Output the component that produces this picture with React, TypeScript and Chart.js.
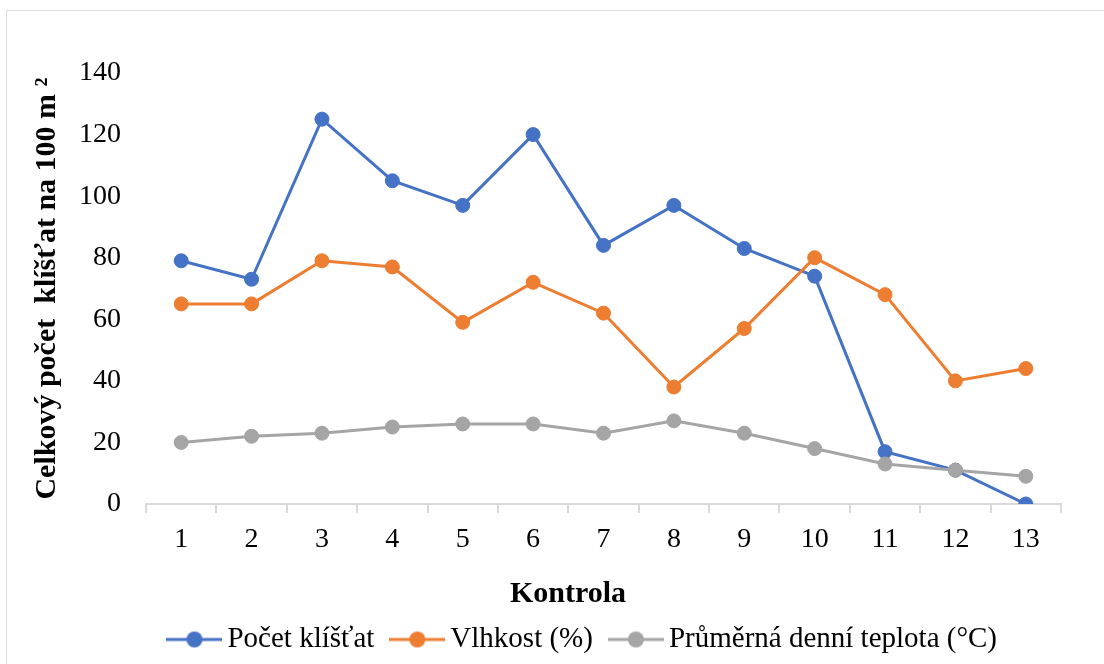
import React, { useEffect, useRef } from "react";
import { Chart, registerables } from "chart.js";

Chart.register(...registerables);

const categories = ["1", "2", "3", "4", "5", "6", "7", "8", "9", "10", "11", "12", "13"];
const pocetKlistat = [79, 73, 125, 105, 97, 120, 84, 97, 83, 74, 17, 11, 0];
const vlhkost = [65, 65, 79, 77, 59, 72, 62, 38, 57, 80, 68, 40, 44];
const teplota = [20, 22, 23, 25, 26, 26, 23, 27, 23, 18, 13, 11, 9];
const yTicks = [0, 20, 40, 60, 80, 100, 120, 140];
const seriesLabels = ["Počet klíšťat", "Vlhkost (%)", "Průměrná denní teplota (°C)"];
const seriesColors = ["#4472C4", "#ED7D31", "#A5A5A5"];
const xTitle = "Kontrola";
const yTitle = "Celkový počet  klíšťat na 100 m ²";

const FONT = "'Liberation Serif', 'Times New Roman', serif";

function makeMarker(color: string): HTMLCanvasElement {
  const c = document.createElement("canvas");
  c.width = 56;
  c.height = 20;
  const ctx = c.getContext("2d")!;
  ctx.strokeStyle = color;
  ctx.lineWidth = 3;
  ctx.beginPath();
  ctx.moveTo(0, 10);
  ctx.lineTo(56, 10);
  ctx.stroke();
  ctx.fillStyle = color;
  ctx.beginPath();
  ctx.arc(28, 10, 8, 0, Math.PI * 2);
  ctx.fill();
  return c;
}

const framePlugin = {
  id: "frame",
  beforeDraw(chart: any) {
    const ctx = chart.ctx;
    ctx.save();
    ctx.fillStyle = "#ffffff";
    ctx.fillRect(0, 0, chart.width, chart.height);
    ctx.strokeStyle = "#d9d9d9";
    ctx.lineWidth = 1;
    ctx.strokeRect(6.5, 10.5, chart.width + 20, chart.height + 20);
    ctx.restore();
  },
};

const layoutTweakPlugin = {
  id: "layoutTweak",
  afterLayout(chart: any) {
    const lg = chart.legend;
    if (lg) {
      lg.left += 56;
      lg.right += 56;
    }
    const xs = chart.scales.x;
    if (xs && !xs._titleWrapped) {
      const orig = xs.drawTitle.bind(xs);
      xs.drawTitle = (...args: any[]) => {
        const l = xs.left;
        const r = xs.right;
        xs.left = l - 35.5;
        xs.right = r - 35.5;
        orig(...args);
        xs.left = l;
        xs.right = r;
      };
      xs._titleWrapped = true;
    }
  },
};

export default function App() {
  const ref = useRef<HTMLCanvasElement | null>(null);

  useEffect(() => {
    if (!ref.current) return;
    const markers = seriesColors.map(makeMarker);
    const values = [pocetKlistat, vlhkost, teplota];
    const orders = [3, 2, 1];
    const chart = new Chart(ref.current, {
      type: "line",
      data: {
        labels: categories,
        datasets: values.map((v, i) => ({
          label: seriesLabels[i],
          data: v,
          borderColor: seriesColors[i],
          backgroundColor: seriesColors[i],
          borderWidth: 3,
          pointRadius: 7,
          pointBorderWidth: 1,
          pointBorderColor: seriesColors[i],
          pointBackgroundColor: seriesColors[i],
          tension: 0,
          fill: false,
          order: orders[i],
        })),
      },
      options: {
        responsive: false,
        animation: false,
        devicePixelRatio: 1,
        layout: { padding: { top: 73, right: 43, bottom: 0, left: 0 } },
        plugins: {
          tooltip: { enabled: false },
          legend: {
            position: "bottom",
            labels: {
              usePointStyle: true,
              pointStyleWidth: 37,
              padding: 24.5,
              color: "#000000",
              font: { family: FONT, size: 29 },
              generateLabels: () =>
                seriesLabels.map((t, i) => ({
                  text: t,
                  datasetIndex: i,
                  pointStyle: markers[i],
                  fillStyle: seriesColors[i],
                  strokeStyle: seriesColors[i],
                  lineWidth: 0,
                  hidden: false,
                  fontColor: "#000000",
                })),
            },
          },
        },
        scales: {
          x: {
            type: "category",
            offset: true,
            afterFit: (s: any) => {
              s.height = 96.5;
            },
            grid: {
              display: true,
              offset: true,
              drawOnChartArea: false,
              drawTicks: true,
              tickLength: 9,
              color: "#d9d9d9",
              lineWidth: 2,
            },
            border: { display: true, color: "#d9d9d9", width: 2 },
            ticks: {
              color: "#000000",
              font: { family: FONT, size: 28 },
              padding: 10,
              maxRotation: 0,
            },
            title: {
              display: true,
              text: xTitle,
              color: "#000000",
              font: { family: FONT, size: 30, weight: "bold" },
              padding: { top: 0, bottom: -11.5 },
            },
          },
          y: {
            min: 0,
            max: 140,
            afterFit: (s: any) => {
              s.width = 146;
            },
            afterBuildTicks: (s: any) => {
              s.ticks = yTicks.map((v) => ({ value: v }));
            },
            grid: { display: false, drawTicks: false },
            border: { display: false },
            ticks: {
              color: "#000000",
              font: { family: FONT, size: 28 },
              padding: 25,
            },
            title: {
              display: true,
              text: yTitle,
              color: "#000000",
              font: { family: FONT, size: 30, weight: "bold" },
              padding: { top: 29, bottom: 0 },
            },
          },
        },
      },
      plugins: [framePlugin, layoutTweakPlugin],
    });
    return () => chart.destroy();
  }, []);

  return (
    <div style={{ position: "fixed", left: 0, top: 0, width: 1104, height: 664 }}>
      <canvas ref={ref} width={1104} height={664} style={{ display: "block" }} />
    </div>
  );
}
